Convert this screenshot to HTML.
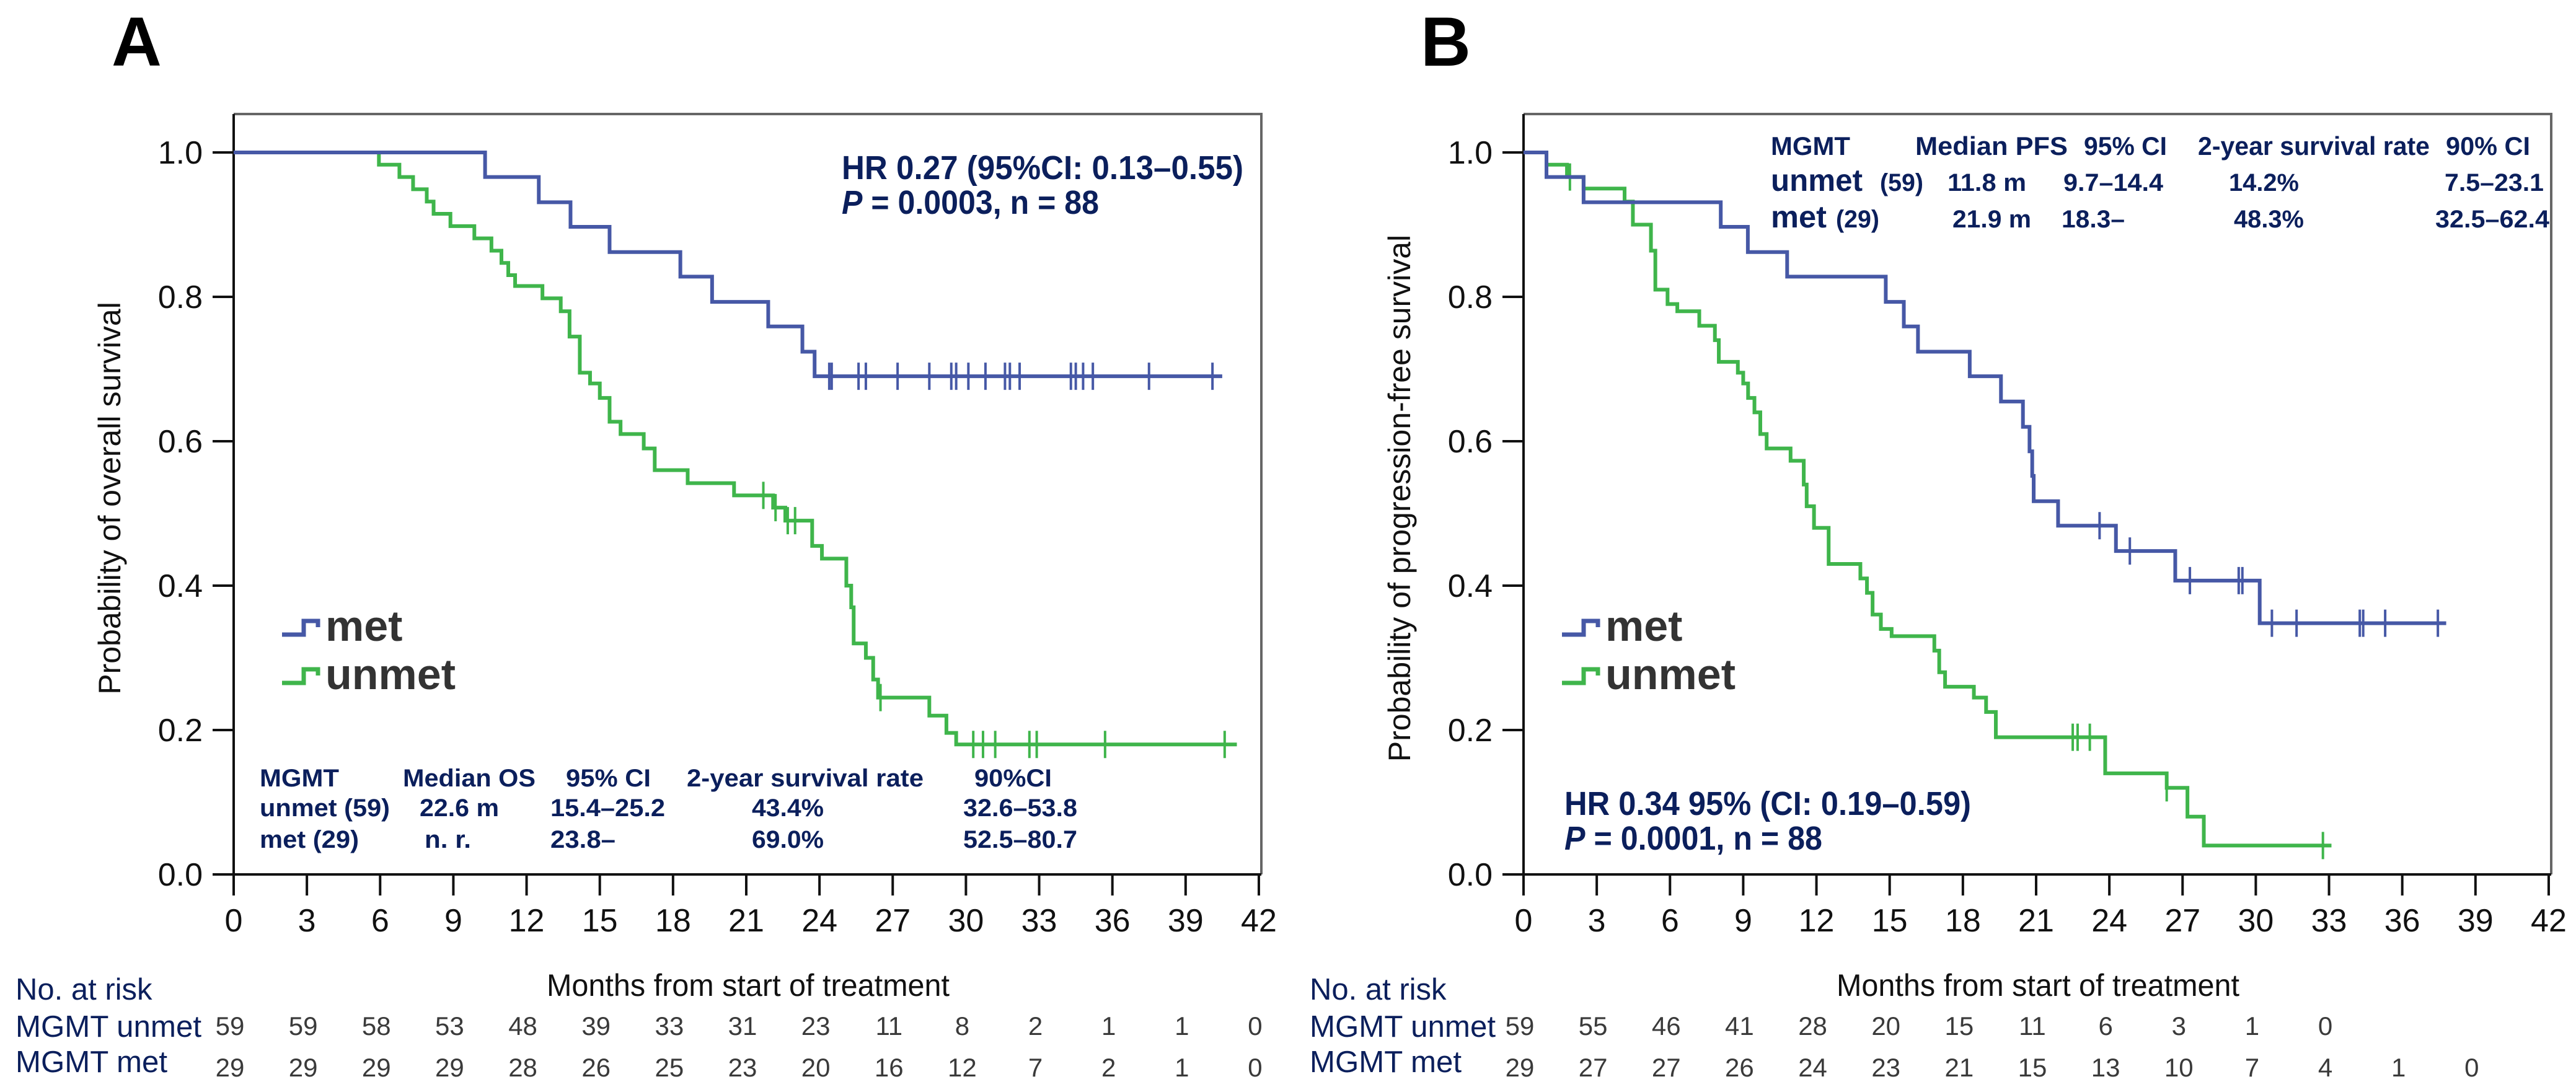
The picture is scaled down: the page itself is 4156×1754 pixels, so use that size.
<!DOCTYPE html>
<html><head><meta charset="utf-8"><style>
html,body{margin:0;padding:0;background:#fff;}
svg{display:block;}
</style></head><body>
<svg id="fig" width="4156" height="1754" viewBox="0 0 4156 1754" xmlns="http://www.w3.org/2000/svg" font-family="'Liberation Sans', sans-serif"></svg>
<script>
// ---------- Panel A data (overall survival) ----------
const aMetTimes = [0, 10.3, 12.5, 13.8, 15.4, 18.3, 19.6, 21.9, 23.3, 23.8];
const aMetSurv  = [1.0, 0.966, 0.931, 0.897, 0.862, 0.828, 0.793, 0.759, 0.724, 0.690];
const aMetEnd = 40.5;
const aMetCensor = [24.4,24.5,25.6,25.9,27.2,28.5,29.4,29.6,30.1,30.8,31.6,31.8,32.2,34.3,34.5,34.8,35.2,37.5,40.1];
const aUnTimes = [0,5.95,6.79,7.35,7.91,8.19,8.88,9.86,10.56,10.97,11.25,11.53,12.65,13.4,13.76,14.18,14.6,15.0,15.4,15.85,16.8,17.25,18.6,20.5,22.1,22.6,23.7,24.1,25.1,25.3,25.4,25.9,26.2,26.4,28.5,29.2,29.6];
const aUnSurv  = [1.0,0.983,0.966,0.949,0.932,0.915,0.898,0.881,0.864,0.847,0.830,0.815,0.798,0.78,0.745,0.695,0.68,0.66,0.627,0.61,0.59,0.56,0.542,0.525,0.508,0.49,0.455,0.4375,0.40,0.37,0.32,0.30,0.27,0.245,0.22,0.196,0.18];
const aUnEnd = 41.1;
const aUnCensor = [21.7,22.2,22.7,23.0,26.5,30.3,30.7,31.2,32.6,32.9,35.7,40.6];
const aRiskUnmet = [59,59,58,53,48,39,33,31,23,11,8,2,1,1,0];
const aRiskMet   = [29,29,29,29,28,26,25,23,20,16,12,7,2,1,0];
// ---------- Panel B data (progression-free survival) ----------
const bMetTimes = [0,0.94,2.46,8.08,9.19,10.8,14.84,15.58,16.16,18.28,19.56,20.46,20.73,20.84,20.9,21.9,24.27,26.7,30.16];
const bMetSurv  = [1.0,0.966,0.931,0.897,0.862,0.828,0.793,0.759,0.724,0.69,0.655,0.62,0.586,0.552,0.517,0.483,0.448,0.407,0.348];
const bMetEnd = 37.8;
const bMetCensor = [23.6,24.84,27.3,29.3,29.45,30.66,31.67,34.26,34.4,35.3,37.46];
const bUnTimes = [0,0.94,1.78,2.46,4.14,4.48,5.22,5.4,5.9,6.3,7.2,7.84,8.0,8.78,9.0,9.2,9.46,9.7,9.96,10.94,11.48,11.6,11.9,12.5,13.8,14.07,14.3,14.64,15.08,16.83,17.03,17.27,18.45,18.95,19.35,23.83,26.35,27.2,27.87];
const bUnSurv  = [1.0,0.983,0.966,0.95,0.932,0.90,0.864,0.81,0.79,0.78,0.76,0.74,0.71,0.695,0.68,0.66,0.64,0.61,0.59,0.573,0.54,0.51,0.48,0.43,0.41,0.39,0.36,0.34,0.33,0.31,0.28,0.26,0.245,0.225,0.19,0.14,0.12,0.08,0.04];
const bUnEnd = 33.1;
const bUnCensor = [1.9,22.5,22.7,23.2,26.35,32.75];
const bRiskUnmet = [59,55,46,41,28,20,15,11,6,3,1,0];
const bRiskMet   = [29,27,27,26,24,23,21,15,13,10,7,4,1,0];
// ---------- axes ----------
const xTicks = [0,3,6,9,12,15,18,21,24,27,30,33,36,39,42];
const yTicks = [0,0.2,0.4,0.6,0.8,1.0];
const yTickLabels = ["0.0","0.2","0.4","0.6","0.8","1.0"];

const NS = "http://www.w3.org/2000/svg";
const svg = document.getElementById('fig');
const BLUE = "#4658a6", GREEN = "#3fb54b", NAVY = "#0b1f5c";
function mk(tag, attrs, parent){const e=document.createElementNS(NS,tag);for(const k in attrs)e.setAttribute(k,attrs[k]);(parent||svg).appendChild(e);return e;}
function txt(s, attrs, parent){const e=mk('text',attrs,parent);e.textContent=s;return e;}

function panel(cfg){
  const g = mk('g',{});
  
  
  const x0=cfg.x0, pxm=39.38, yTop=246, yBot=1411, boxTop=184, boxRight=cfg.x0+1658;
  const X = t => x0 + t*pxm;
  const Y = v => yBot - v*(yBot-yTop);
  const frame = mk('path',{d:`M${x0} ${boxTop} H${boxRight} V${yBot}`,fill:'none',stroke:'#666','stroke-width':4},g);
  
  
  const axes = mk('path',{d:`M${x0} ${boxTop} V${yBot} H${boxRight}`,fill:'none',stroke:'#111','stroke-width':4},g);
  
  
  yTicks.forEach((v,i)=>{
    mk('line',{x1:x0-34,x2:x0,y1:Y(v),y2:Y(v),stroke:'#111','stroke-width':4},g);
    const t=txt(yTickLabels[i],{x:x0-50,y:Y(v)+18,'font-size':52,'text-anchor':'end',fill:'#111'},g);
    
    
  });
  xTicks.forEach(v=>{
    mk('line',{x1:X(v),x2:X(v),y1:yBot,y2:yBot+34,stroke:'#111','stroke-width':4},g);
    const t=txt(String(v),{x:X(v),y:1503,'font-size':52,'text-anchor':'middle',fill:'#111'},g);
    
    
  });
  const yt=txt(cfg.ytitle,{x:0,y:0,'font-size':50,'text-anchor':'middle',fill:'#111',transform:`translate(${x0-183},${804}) rotate(-90)`},g);
  
  
  const xt=txt('Months from start of treatment',{x:x0+830,y:1607,'font-size':50,'text-anchor':'middle',fill:'#111',textLength:650,lengthAdjust:'spacingAndGlyphs'},g);
  
  
  function curve(times, surv, end, censor, color, nm){
    let d=`M${X(times[0])} ${Y(surv[0])}`;
    for(let i=1;i<times.length;i++){d+=` H${X(times[i])} V${Y(surv[i])}`;}
    d+=` H${X(end)}`;
    const p=mk('path',{d:d,fill:'none',stroke:color,'stroke-width':6},g);
    
    
    censor.forEach(c=>{
      let k=0; for(let i=0;i<times.length;i++){ if(times[i]<=c) k=i; }
      const l=mk('line',{x1:X(c),x2:X(c),y1:Y(surv[k])-22,y2:Y(surv[k])+22,stroke:color,'stroke-width':4},g);
      
      
    });
  }
  curve(cfg.unT,cfg.unS,cfg.unE,cfg.unC,GREEN,'unmet');
  curve(cfg.metT,cfg.metS,cfg.metE,cfg.metC,BLUE,'met');
  [['met',BLUE,1034],['unmet',GREEN,1112]].forEach(([lab,col,yy])=>{
    const lg=mk('g',{},g);
    
    
    const lx=x0+cfg.legDx;
    mk('path',{d:`M${lx} ${yy-10} H${lx+35} V${yy-32} H${lx+58} V${yy-22}`,fill:'none',stroke:col,'stroke-width':7},lg);
    txt(lab,{x:lx+70,y:yy,'font-size':70,'font-weight':'bold',fill:'#333'},lg);
  });
  const nl=txt('No. at risk',{x:cfg.rx,y:1613,'font-size':49,fill:NAVY},g);
  
  
  const ul=txt('MGMT unmet',{x:cfg.rx,y:1673,'font-size':49,fill:NAVY,textLength:300,lengthAdjust:'spacingAndGlyphs'},g);
  
  
  const ml=txt('MGMT met',{x:cfg.rx,y:1730,'font-size':49,fill:NAVY,textLength:245,lengthAdjust:'spacingAndGlyphs'},g);
  
  
  cfg.riskU.forEach((n,i)=>{
    const t=txt(String(n),{x:X(xTicks[i])-6,y:1670,'font-size':42,'text-anchor':'middle',fill:'#3a3a3a'},g);
    
    
  });
  cfg.riskM.forEach((n,i)=>{
    const t=txt(String(n),{x:X(xTicks[i])-6,y:1737,'font-size':42,'text-anchor':'middle',fill:'#3a3a3a'},g);
    
    
  });
  const pl=txt(cfg.letter,{x:cfg.letterX,y:106,'font-size':112,'font-weight':'bold',fill:'#000'},g);
  
  
  return g;
}

const gA = panel({name:'panel-a-os',x0:377,ytitle:'Probability of overall survival',
  metT:aMetTimes,metS:aMetSurv,metE:aMetEnd,metC:aMetCensor,
  unT:aUnTimes,unS:aUnSurv,unE:aUnEnd,unC:aUnCensor,
  riskU:aRiskUnmet,riskM:aRiskMet,rx:25,legDx:78,letter:'A',letterX:180});
const gB = panel({name:'panel-b-pfs',x0:2458,ytitle:'Probability of progression-free survival',
  metT:bMetTimes,metS:bMetSurv,metE:bMetEnd,metC:bMetCensor,
  unT:bUnTimes,unS:bUnSurv,unE:bUnEnd,unC:bUnCensor,
  riskU:bRiskUnmet,riskM:bRiskMet,rx:2113,legDx:62,letter:'B',letterX:2292});

function stat(parent, s, x, y, fs, w, extra){
  const a={x:x,y:y,'font-size':fs,'font-weight':'bold',fill:NAVY};
  if(w){a.textLength=w;a.lengthAdjust='spacingAndGlyphs';}
  const t=txt(s,Object.assign(a,extra||{}),parent);
  
  
  return t;
}
stat(gA,'HR 0.27 (95%CI: 0.13–0.55)',1358,289,54,648);
const pA=txt('',{x:1358,y:345,'font-size':54,'font-weight':'bold',fill:NAVY,textLength:415,lengthAdjust:'spacingAndGlyphs'},gA);


pA.innerHTML='<tspan font-style="italic">P</tspan> = 0.0003, n = 88';
[['MGMT',419,1269,128],['Median OS',650,1269,214],['95% CI',913,1269,137],['2-year survival rate',1108,1269,382],['90%CI',1572,1269,125],
 ['unmet (59)',419,1317,210],['22.6 m',677,1317,128],['15.4–25.2',888,1317,185],['43.4%',1213,1317,116],['32.6–53.8',1554,1317,184],
 ['met (29)',419,1368,160],['n. r.',685,1368,75],['23.8–',888,1368,105],['69.0%',1213,1368,116],['52.5–80.7',1554,1368,184]]
 .forEach(r=>stat(gA,r[0],r[1],r[2],40,r[3]));
[['MGMT',2857,250,128],['Median  PFS',3090,250,246],['95% CI',3362,250,134],['2-year survival rate',3546,250,374],['90% CI',3946,250,136]]
 .forEach(r=>stat(gB,r[0],r[1],r[2],42,r[3]));
[['(59)',3033,308,70],['11.8 m',3142,308,127],['9.7–14.4',3329,308,161],['14.2%',3596,308,113],['7.5–23.1',3944,308,160],
 ['(29)',2962,367,70],['21.9 m',3150,367,127],['18.3–',3326,367,102],['48.3%',3604,367,113],['32.5–62.4',3929,367,184]]
 .forEach(r=>stat(gB,r[0],r[1],r[2],40,r[3]));
stat(gB,'unmet',2857,308,50,148);
stat(gB,'met',2857,367,50,90);
stat(gB,'HR 0.34 95% (CI: 0.19–0.59)',2524,1315,54,656);
const pB=txt('',{x:2524,y:1371,'font-size':54,'font-weight':'bold',fill:NAVY,textLength:416,lengthAdjust:'spacingAndGlyphs'},gB);


pB.innerHTML='<tspan font-style="italic">P</tspan> = 0.0001, n = 88';
</script>
</body></html>
